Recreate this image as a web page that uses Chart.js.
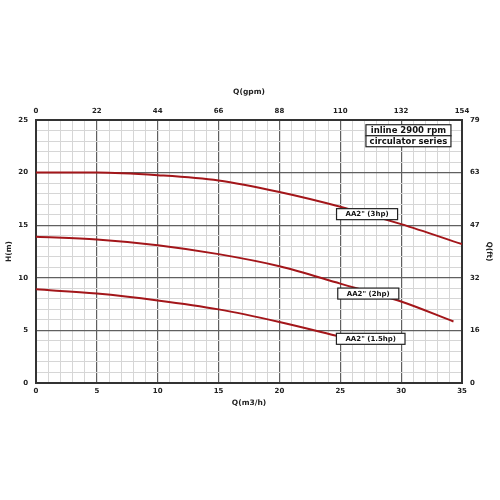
<!DOCTYPE html>
<html>
<head>
<meta charset="utf-8">
<script src="https://cdn.jsdelivr.net/npm/chart.js@4"></script>
<style>
  html, body { margin: 0; padding: 0; background: #fff; }
  #wrap { width: 500px; height: 500px; }
</style>
</head>
<body>
<div id="wrap"><canvas id="pumpChart" width="500" height="500"></canvas></div>
<script>
// --- data ---
const q3hp = [0, 5, 10, 15, 20, 25, 30, 35];
const h3hp = [20.0, 20.0, 19.75, 19.25, 18.15, 16.75, 15.1, 13.2];

const q2hp = [0, 5, 10, 15, 20, 25, 30, 34.3];
const h2hp = [13.9, 13.65, 13.1, 12.25, 11.1, 9.45, 7.75, 5.85];

const q15hp = [0, 5, 10, 15, 20, 25];
const h15hp = [8.9, 8.5, 7.85, 7.0, 5.8, 4.4];

const seriesNames = ['AA2" (3hp)', 'AA2" (2hp)', 'AA2" (1.5hp)'];
const ftLabels = ['0', '16', '32', '47', '63', '79'];   // right axis, at H = 0,5,..,25
const titleLines = ['inline 2900 rpm', 'circulator series'];

const curveColor = '#a3161a';
const fontFam = '"DejaVu Sans", Verdana, sans-serif';

const toPoints = (qs, hs) => qs.map((q, i) => ({ x: q, y: hs[i] }));

// label boxes sitting on the chart (position in data units)
const boxLabels = [
    { text: seriesNames[0], x: 27.2, y: 16.05 },
    { text: seriesNames[1], x: 27.3, y: 8.5 },
    { text: seriesNames[2], x: 27.5, y: 4.2 }
];

const boxPlugin = {
    id: 'boxLabels',
    afterDatasetsDraw(chart) {
        const { ctx, scales } = chart;
        const sx = scales.x, sy = scales.y;
        ctx.save();
        ctx.textAlign = 'center';
        ctx.textBaseline = 'middle';

        // curve name boxes
        ctx.font = 'bold 7px ' + fontFam;
        boxLabels.forEach(b => {
            const cx = sx.getPixelForValue(b.x);
            const cy = sy.getPixelForValue(b.y);
            const w = ctx.measureText(b.text).width + 18;
            const h = 11;
            ctx.fillStyle = '#fff';
            ctx.fillRect(cx - w / 2, cy - h / 2, w, h);
            ctx.strokeStyle = '#222';
            ctx.lineWidth = 1.2;
            ctx.strokeRect(cx - w / 2, cy - h / 2, w, h);
            ctx.fillStyle = '#111';
            ctx.fillText(b.text, cx, cy + 0.5);
        });

        // title box, top right
        ctx.font = 'bold 8.5px ' + fontFam;
        const tx = sx.getPixelForValue(30.6);
        const rowH = 11;
        const tw = 85;
        let top = sy.getPixelForValue(24.55);
        titleLines.forEach(line => {
            ctx.fillStyle = '#fff';
            ctx.fillRect(tx - tw / 2, top, tw, rowH);
            ctx.strokeStyle = '#222';
            ctx.lineWidth = 1.2;
            ctx.strokeRect(tx - tw / 2, top, tw, rowH);
            ctx.fillStyle = '#111';
            ctx.fillText(line, tx, top + rowH / 2 + 0.5);
            top += rowH;
        });
        ctx.restore();
    }
};

const gridColor = c => (c.tick && c.tick.value % 5 === 0) ? '#606060' : '#d6d6d6';
const tickFont = { family: fontFam, size: 7, weight: 'bold' };
const titleFont = { family: fontFam, size: 7.5, weight: 'bold' };

function lineSet(label, qs, hs) {
    return {
        label: label,
        data: toPoints(qs, hs),
        borderColor: curveColor,
        borderWidth: 2,
        pointRadius: 0,
        fill: false,
        cubicInterpolationMode: 'monotone'
    };
}

new Chart(document.getElementById('pumpChart'), {
    type: 'line',
    data: {
        datasets: [
            lineSet(seriesNames[0], q3hp, h3hp),
            lineSet(seriesNames[1], q2hp, h2hp),
            lineSet(seriesNames[2], q15hp, h15hp)
        ]
    },
    options: {
        responsive: false,
        animation: false,
        layout: { padding: { top: 84, bottom: 88, left: 0, right: 2 } },
        plugins: { legend: { display: false }, tooltip: { enabled: false } },
        scales: {
            x: {
                type: 'linear', position: 'bottom', min: 0, max: 35,
                ticks: {
                    stepSize: 1, autoSkip: false, maxRotation: 0, padding: 4,
                    color: '#222', font: tickFont,
                    callback: v => (v % 5 === 0 ? v : '')
                },
                grid: { color: gridColor, lineWidth: c => (c.tick && c.tick.value % 5 === 0 ? 1.2 : 1), drawTicks: false },
                border: { color: '#333', width: 2 },
                title: { display: true, text: 'Q(m3/h)', color: '#222', font: titleFont, padding: { top: 3, bottom: 4 } },
                afterFit: s => { s.height = 29; }
            },
            x2: {
                type: 'linear', position: 'top', min: 0, max: 154,
                ticks: { stepSize: 22, maxRotation: 0, padding: 5, color: '#222', font: tickFont },
                grid: { display: false, drawTicks: false },
                border: { color: '#333', width: 2 },
                title: { display: true, text: 'Q(gpm)', color: '#222', font: titleFont, padding: { top: 4, bottom: 0 } },
                afterFit: s => { s.height = 36; }
            },
            y: {
                type: 'linear', position: 'left', min: 0, max: 25,
                ticks: {
                    stepSize: 1, autoSkip: false, padding: 8,
                    color: '#222', font: tickFont,
                    callback: v => (v % 5 === 0 ? v : '')
                },
                grid: { color: gridColor, lineWidth: c => (c.tick && c.tick.value % 5 === 0 ? 1.2 : 1), drawTicks: false },
                border: { color: '#333', width: 2 },
                title: { display: true, text: 'H(m)', color: '#222', font: titleFont, padding: { top: 5, bottom: 0 } },
                afterFit: s => { s.width = 36; }
            },
            y2: {
                type: 'linear', position: 'right', min: 0, max: 25,
                ticks: {
                    stepSize: 5, padding: 8, color: '#222', font: tickFont,
                    callback: v => ftLabels[Math.round(v / 5)]
                },
                grid: { display: false, drawTicks: false },
                border: { color: '#333', width: 2 },
                title: { display: true, text: 'Q(ft)', color: '#222', font: titleFont, padding: { top: 5, bottom: 0 } },
                afterFit: s => { s.width = 36; }
            }
        }
    },
    plugins: [boxPlugin]
});
</script>
</body>
</html>
